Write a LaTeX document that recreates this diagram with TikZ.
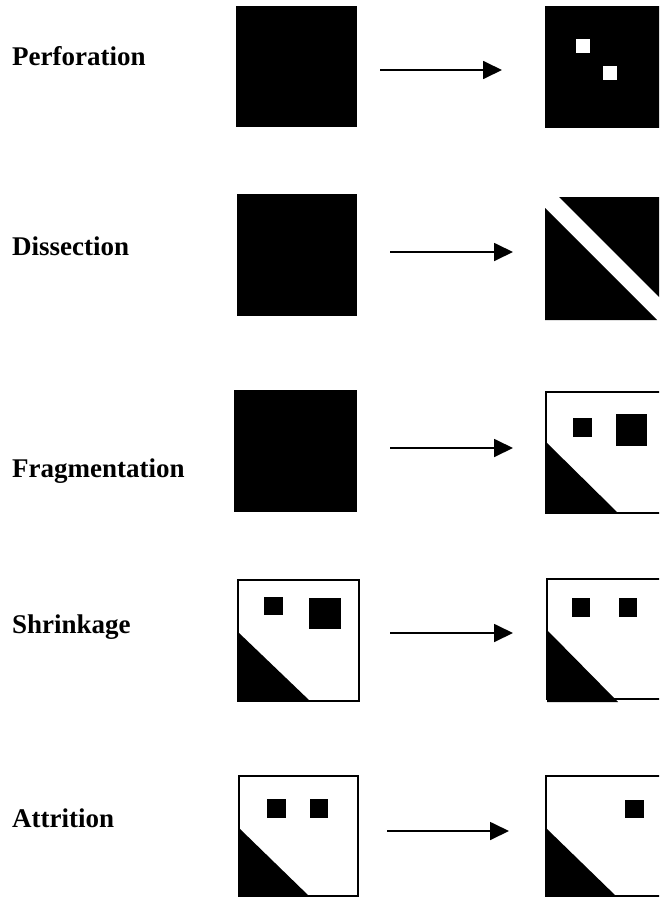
\documentclass[tikz,border=0pt]{standalone}
\usepackage{fontspec}
\setmainfont{Liberation Serif}
\usetikzlibrary{arrows.meta}
\begin{document}
\begin{tikzpicture}[x=1pt,y=-1pt,
  lbl/.style={anchor=base west,inner sep=0pt,font=\fontsize{27}{30}\selectfont\bfseries},
  conn/.style={line width=1.8pt,-{Triangle[length=19pt,width=18pt]}},
  outl/.style={draw=black,line width=2pt,fill=white},
  blk/.style={fill=black}]
\useasboundingbox (0,0) rectangle (659,897);
\clip (0,0) rectangle (659,897);
\fill[white] (0,0) rectangle (659,897);
% labels
\node[lbl] (l1) at (12,65) {Perforation};
\node[lbl] (l2) at (12,255) {Dissection};
\node[lbl] (l3) at (12,477) {Fragmentation};
\node[lbl] (l4) at (12,633) {Shrinkage};
\node[lbl] (l5) at (12,827) {Attrition};
% row 1
\fill[blk] (236,6) rectangle (357,127);
\fill[blk] (545,6) rectangle (667,128);
\fill[white] (576,39) rectangle (590,53);
\fill[white] (603,66) rectangle (617,80);
\coordinate (a1s) at (380,70); \coordinate (a1e) at (502,70);
\draw[conn] (a1s) -- (a1e);
% row 2
\fill[blk] (237,194) rectangle (357,316);
\fill[blk] (545,208) -- (545,320) -- (657,320) -- cycle;
\fill[blk] (559,197) -- (667,197) -- (667,305) -- cycle;
\coordinate (a2s) at (390,252); \coordinate (a2e) at (513,252);
\draw[conn] (a2s) -- (a2e);
% row 3
\fill[blk] (234,390) rectangle (357,512);
\draw[outl] (546,392) rectangle (668,513);
\fill[blk] (573,418) rectangle (592,437);
\fill[blk] (616,414) rectangle (647,446);
\fill[blk] (546,442) -- (546,513) -- (618,513) -- cycle;
\coordinate (a3s) at (390,448); \coordinate (a3e) at (513,448);
\draw[conn] (a3s) -- (a3e);
% row 4
\draw[outl] (238,580) rectangle (359,701);
\fill[blk] (264,597) rectangle (283,615);
\fill[blk] (309,598) rectangle (341,629);
\fill[blk] (238,632) -- (238,701) -- (310,701) -- cycle;
\draw[outl] (547,579) rectangle (668,699);
\fill[blk] (572,598) rectangle (590,617);
\fill[blk] (619,598) rectangle (637,617);
\fill[blk] (547,630) -- (547,702) -- (618,702) -- cycle;
\coordinate (a4s) at (390,633); \coordinate (a4e) at (513,633);
\draw[conn] (a4s) -- (a4e);
% row 5
\draw[outl] (239,776) rectangle (358,896);
\fill[blk] (267,799) rectangle (286,818);
\fill[blk] (310,799) rectangle (328,818);
\fill[blk] (239,828) -- (239,897) -- (310,897) -- cycle;
\draw[outl] (546,776) rectangle (668,896);
\fill[blk] (625,800) rectangle (644,818);
\fill[blk] (546,828) -- (546,897) -- (617,897) -- cycle;
\coordinate (a5s) at (387,831); \coordinate (a5e) at (509,831);
\draw[conn] (a5s) -- (a5e);
\end{tikzpicture}
\end{document}
